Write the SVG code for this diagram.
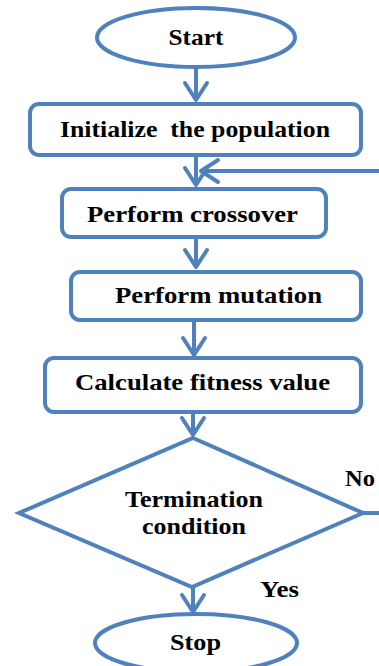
<svg xmlns="http://www.w3.org/2000/svg" width="379" height="666" viewBox="0 0 379 666">
<style>
.shape{fill:#ffffff;stroke:#4F81BD;stroke-width:4;}
.conn{fill:none;stroke:#4F81BD;stroke-width:4;}
</style>
<defs>
<marker id="arr" markerUnits="userSpaceOnUse" viewBox="-22 -14 26 28" markerWidth="26" markerHeight="28" refX="0" refY="0" orient="auto">
<path d="M -17 -11 L 0 0 L -17 11" fill="none" stroke="#4F81BD" stroke-width="4" stroke-linecap="round" stroke-linejoin="round"/>
</marker>
</defs>
<rect width="379" height="666" fill="#ffffff"/>
<g id="connectors">
<line class="conn" x1="196" y1="67" x2="196" y2="100" marker-end="url(#arr)"/>
<line class="conn" x1="196" y1="155" x2="196" y2="185" marker-end="url(#arr)"/>
<line class="conn" x1="381" y1="171" x2="201" y2="171" marker-end="url(#arr)"/>
<line class="conn" x1="196" y1="237" x2="196" y2="267" marker-end="url(#arr)"/>
<line class="conn" x1="194" y1="320" x2="194" y2="355" marker-end="url(#arr)"/>
<line class="conn" x1="193" y1="412" x2="193" y2="435" marker-end="url(#arr)"/>
<line class="conn" x1="363" y1="513" x2="381" y2="513"/>
<line class="conn" x1="193" y1="587" x2="193" y2="612" marker-end="url(#arr)"/>
</g>
<g font-family="Liberation Serif, serif" font-weight="bold" font-size="23" fill="#000000">
<g id="start" text-anchor="middle">
<ellipse class="shape" cx="196" cy="37.5" rx="99" ry="29.5"/>
<text x="196" y="45" textLength="55" lengthAdjust="spacingAndGlyphs">Start</text>
</g>
<g id="init" text-anchor="middle">
<rect class="shape" x="30" y="104" width="331" height="51" rx="9"/>
<text x="195" y="137" textLength="270" lengthAdjust="spacingAndGlyphs" xml:space="preserve">Initialize  the population</text>
</g>
<g id="crossover" text-anchor="middle">
<rect class="shape" x="62" y="189" width="264" height="48" rx="9"/>
<text x="192.5" y="222" textLength="211" lengthAdjust="spacingAndGlyphs">Perform crossover</text>
</g>
<g id="mutation" text-anchor="middle">
<rect class="shape" x="71" y="272" width="290" height="48" rx="9"/>
<text x="218.5" y="303" textLength="207" lengthAdjust="spacingAndGlyphs">Perform mutation</text>
</g>
<g id="fitness" text-anchor="middle">
<rect class="shape" x="45" y="358" width="316" height="54" rx="9"/>
<text x="202.5" y="390" textLength="255" lengthAdjust="spacingAndGlyphs">Calculate fitness value</text>
</g>
<g id="termination" text-anchor="middle">
<polygon class="shape" points="193,438 363,513 192,587 19,513"/>
<text x="194" y="507" textLength="138" lengthAdjust="spacingAndGlyphs">Termination</text>
<text x="194" y="534" textLength="104" lengthAdjust="spacingAndGlyphs">condition</text>
</g>
<g id="stop" text-anchor="middle">
<ellipse class="shape" cx="196" cy="643" rx="101" ry="29"/>
<text x="195.5" y="650" textLength="51" lengthAdjust="spacingAndGlyphs">Stop</text>
</g>
<g id="labels">
<text x="345" y="486" textLength="30" lengthAdjust="spacingAndGlyphs">No</text>
<text x="260" y="597" textLength="39" lengthAdjust="spacingAndGlyphs">Yes</text>
</g>
</g>
</svg>
